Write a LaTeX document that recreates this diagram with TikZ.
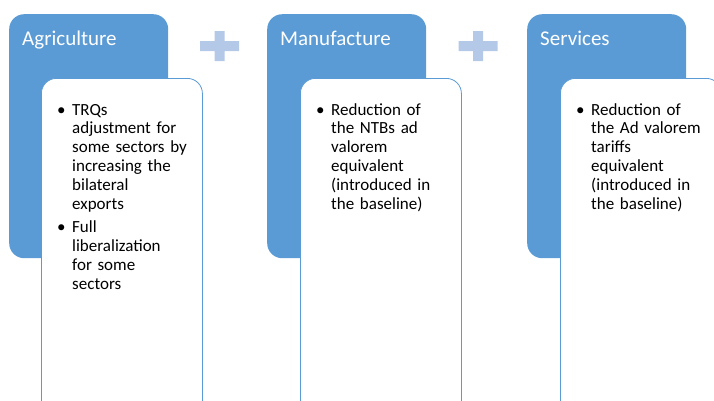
\documentclass[tikz,border=0pt]{standalone}
\usepackage{fontspec}
\setmainfont{Carlito}
\usetikzlibrary{calc}
\definecolor{headblue}{RGB}{91,155,213}
\definecolor{plusblue}{RGB}{180,200,232}
\newcommand\itm[1]{\par\noindent\hangindent=15pt\hangafter=1\makebox[15pt][l]{\textbullet}#1}

\begin{document}
\begin{tikzpicture}[x=1pt,y=-1pt,
  head/.style={fill=headblue,rounded corners=15pt,minimum width=159pt,minimum height=244pt,inner sep=0pt,anchor=north west},
  body/.style={draw=headblue,line width=.8pt,fill=white,rounded corners=15pt,minimum width=161pt,minimum height=360pt,inner sep=0pt,anchor=north west},
  headtxt/.style={text=white,font=\fontsize{21}{25}\selectfont,inner sep=0pt,anchor=base west},
  bodytxt/.style={font=\fontsize{17}{18.8}\selectfont,text width=140pt,align=left,inner sep=0pt,anchor=north west},
  plusbar/.style={fill=plusblue}]
 \useasboundingbox (0,0) rectangle (714,400);
 \clip (0,0) rectangle (714,400);
 % sector heads
 \node[head] (agrhead) at (9,14) {};
 \node[head] (manhead) at (267,14) {};
 \node[head] (serhead) at (527,14) {};
 % white boxes
 \node[body] (agrbody) at ($(agrhead.north west)+(32,64)$) {};
 \node[body] (manbody) at ($(manhead.north west)+(33,64)$) {};
 \node[body] (serbody) at ($(serhead.north west)+(33,64)$) {};
 % plus signs
 \coordinate (plus1) at (219.5,46);
 \coordinate (plus2) at (478,46);
 \fill[plusbar] (plus1) +(-19.5,-5) rectangle +(19.5,5) (plus1) +(-5,-15) rectangle +(5,15);
 \fill[plusbar] (plus2) +(-19.5,-5) rectangle +(19.5,5) (plus2) +(-5,-15) rectangle +(5,15);
 % titles
 \node[headtxt] (agrtitle) at ($(agrhead.north west)+(13,31)$) {Agriculture};
 \node[headtxt] (mantitle) at ($(manhead.north west)+(13,31)$) {Manufacture};
 \node[headtxt] (sertitle) at ($(serhead.north west)+(13,31)$) {Services};
 % bullet texts
 \node[bodytxt] (agrtxt) at ($(agrbody.north west)+(16,18)$)
  {\itm{\rule{0pt}{13pt}TRQs\newline adjustment for\newline some sectors by\newline increasing the\newline bilateral\newline exports}\par\vspace{5pt}
   \itm{Full\newline liberalization\newline for some\newline sectors}\par};
 \node[bodytxt] (mantxt) at ($(manbody.north west)+(16,18)$)
  {\itm{\rule{0pt}{13pt}Reduction of\newline the NTBs ad\newline valorem\newline equivalent\newline (introduced in\newline the baseline)}\par};
 \node[bodytxt] (sertxt) at ($(serbody.north west)+(16,18)$)
  {\itm{\rule{0pt}{13pt}Reduction of\newline the Ad valorem\newline tariffs\newline equivalent\newline (introduced in\newline the baseline)}\par};
\end{tikzpicture}
\end{document}
